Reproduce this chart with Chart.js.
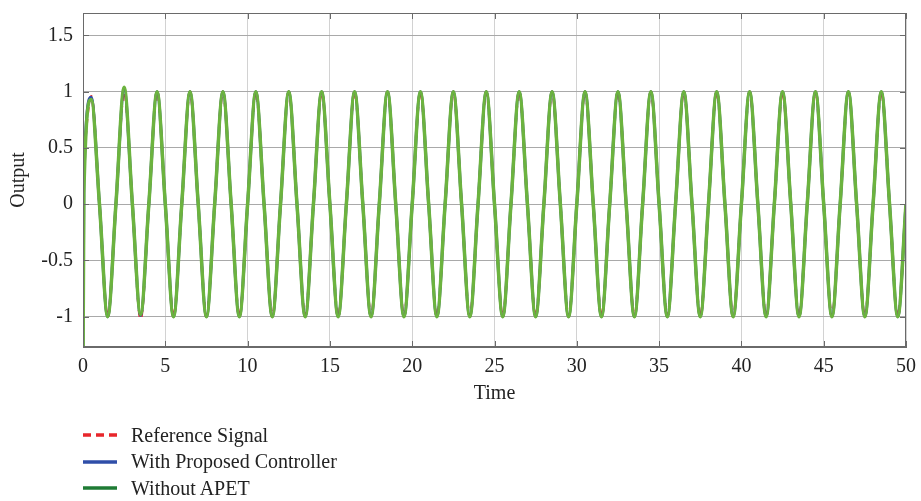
<!DOCTYPE html>
<html>
<head>
<meta charset="utf-8">
<script src="https://cdn.jsdelivr.net/npm/chart.js@4.4.0/dist/chart.umd.min.js"></script>
<style>
  body { margin: 0; background: #fff; }
  #wrap { position: relative; width: 921px; height: 501px; }
  #legend { position: absolute; left: 83px; top: 422px; font-family: "Liberation Serif", serif; font-size: 20px; color: #222; }
  .row { display: flex; align-items: center; height: 26.5px; white-space: nowrap; }
  .row svg { margin-right: 14px; }
</style>
</head>
<body>
<div id="wrap">
  <canvas id="outputChart" width="921" height="501"></canvas>
  <div id="legend"></div>
</div>
<script>
// time samples (shared by all three series)
const time = [0, 0.05, 0.5, 1, 1.5, 2, 2.5, 3, 3.5, 4,
  4.5, 5, 5.5, 6, 6.5, 7, 7.5, 8, 8.5, 9, 9.5, 10, 10.5, 11, 11.5, 12,
  12.5, 13, 13.5, 14, 14.5, 15, 15.5, 16, 16.5, 17, 17.5, 18, 18.5, 19, 19.5, 20,
  20.5, 21, 21.5, 22, 22.5, 23, 23.5, 24, 24.5, 25, 25.5, 26, 26.5, 27, 27.5, 28,
  28.5, 29, 29.5, 30, 30.5, 31, 31.5, 32, 32.5, 33, 33.5, 34, 34.5, 35, 35.5, 36,
  36.5, 37, 37.5, 38, 38.5, 39, 39.5, 40, 40.5, 41, 41.5, 42, 42.5, 43, 43.5, 44,
  44.5, 45, 45.5, 46, 46.5, 47, 47.5, 48, 48.5, 49, 49.5, 50];

const referenceSignal = [0.27, 0.4, 0.96, 0, -1, 0, 1, 0, -1.02, 0,
  1, 0, -1, 0, 1, 0, -1, 0, 1, 0, -1, 0, 1, 0, -1, 0,
  1, 0, -1, 0, 1, 0, -1, 0, 1, 0, -1, 0, 1, 0, -1, 0,
  1, 0, -1, 0, 1, 0, -1, 0, 1, 0, -1, 0, 1, 0, -1, 0,
  1, 0, -1, 0, 1, 0, -1, 0, 1, 0, -1, 0, 1, 0, -1, 0,
  1, 0, -1, 0, 1, 0, -1, 0, 1, 0, -1, 0, 1, 0, -1, 0,
  1, 0, -1, 0, 1, 0, -1, 0, 1, 0, -1, 0];

const withProposed = [-1.4, 0.2, 0.95, 0, -1, 0, 1.02, 0, -0.99, 0,
  1, 0, -1, 0, 1, 0, -1, 0, 1, 0, -1, 0, 1, 0, -1, 0,
  1, 0, -1, 0, 1, 0, -1, 0, 1, 0, -1, 0, 1, 0, -1, 0,
  1, 0, -1, 0, 1, 0, -1, 0, 1, 0, -1, 0, 1, 0, -1, 0,
  1, 0, -1, 0, 1, 0, -1, 0, 1, 0, -1, 0, 1, 0, -1, 0,
  1, 0, -1, 0, 1, 0, -1, 0, 1, 0, -1, 0, 1, 0, -1, 0,
  1, 0, -1, 0, 1, 0, -1, 0, 1, 0, -1, 0];

const withoutApet = [-1.6, 0.1, 0.93, 0, -1, 0, 1.04, 0, -0.98, 0,
  1, 0, -1, 0, 1, 0, -1, 0, 1, 0, -1, 0, 1, 0, -1, 0,
  1, 0, -1, 0, 1, 0, -1, 0, 1, 0, -1, 0, 1, 0, -1, 0,
  1, 0, -1, 0, 1, 0, -1, 0, 1, 0, -1, 0, 1, 0, -1, 0,
  1, 0, -1, 0, 1, 0, -1, 0, 1, 0, -1, 0, 1, 0, -1, 0,
  1, 0, -1, 0, 1, 0, -1, 0, 1, 0, -1, 0, 1, 0, -1, 0,
  1, 0, -1, 0, 1, 0, -1, 0, 1, 0, -1, 0];

const seriesNames = ["Reference Signal", "With Proposed Controller", "Without APET"];
const legendColors = ["#e8262b", "#2f4ea8", "#1e7b34"];
const xTicks = [0, 5, 10, 15, 20, 25, 30, 35, 40, 45, 50];
const yTicks = [-1, -0.5, 0, 0.5, 1, 1.5];

const fontFamily = '"Liberation Serif", "Times New Roman", serif';

function toPoints(ys) {
  return time.map((t, i) => ({ x: t, y: ys[i] }));
}

// MATLAB-like box with inward tick marks
const boxPlugin = {
  id: "box",
  afterDraw(chart) {
    const { ctx, chartArea: a, scales } = chart;
    ctx.save();
    ctx.strokeStyle = "#6a6a6a";
    ctx.lineWidth = 1;
    ctx.strokeRect(a.left + 0.5, a.top + 0.5, a.right - a.left - 1, a.bottom - a.top - 1);
    ctx.beginPath();
    xTicks.forEach(v => {
      const px = Math.round(scales.x.getPixelForValue(v)) + 0.5;
      ctx.moveTo(px, a.bottom); ctx.lineTo(px, a.bottom - 6);
      ctx.moveTo(px, a.top); ctx.lineTo(px, a.top + 6);
    });
    yTicks.forEach(v => {
      const py = Math.round(scales.y.getPixelForValue(v)) + 0.5;
      ctx.moveTo(a.left, py); ctx.lineTo(a.left + 6, py);
      ctx.moveTo(a.right, py); ctx.lineTo(a.right - 6, py);
    });
    ctx.stroke();
    ctx.restore();
  }
};

const chart = new Chart(document.getElementById("outputChart").getContext("2d"), {
  type: "line",
  data: {
    datasets: [
      {
        label: seriesNames[0],
        data: toPoints(referenceSignal),
        borderColor: "#e8262b",
        borderWidth: 2.5,
        borderDash: [7, 5],
        order: 3
      },
      {
        label: seriesNames[1],
        data: toPoints(withProposed),
        borderColor: "#2f4ea8",
        borderWidth: 3,
        order: 2
      },
      {
        label: seriesNames[2],
        data: toPoints(withoutApet),
        borderColor: "#6cb33f",
        borderWidth: 3.5,
        order: 1
      }
    ]
  },
  options: {
    responsive: false,
    animation: false,
    layout: { padding: { left: 0, top: 13, right: 15, bottom: 94 } },
    elements: {
      point: { radius: 0 },
      line: { cubicInterpolationMode: "monotone", fill: false }
    },
    plugins: {
      legend: { display: false },
      tooltip: { enabled: false }
    },
    scales: {
      x: {
        type: "linear",
        min: 0,
        max: 50,
        afterBuildTicks: s => { s.ticks = xTicks.map(v => ({ value: v })); },
        afterFit: s => { s.height = 60; s.paddingLeft = 0; s.paddingRight = 0; },
        grid: { color: "#d2d2d2", drawTicks: false },
        border: { display: true, color: "#6a6a6a" },
        ticks: {
          padding: 8,
          color: "#222",
          font: { family: fontFamily, size: 20 },
          maxRotation: 0,
          callback: v => String(v)
        },
        title: {
          display: true,
          text: "Time",
          color: "#222",
          padding: { top: 4, bottom: 1 },
          font: { family: fontFamily, size: 20 }
        }
      },
      y: {
        min: -1.27,
        max: 1.7,
        afterBuildTicks: s => { s.ticks = yTicks.map(v => ({ value: v })); },
        afterFit: s => { s.width = 83; s.paddingTop = 0; s.paddingBottom = 0; },
        grid: { color: "#a9a9a9", drawTicks: false },
        border: { display: true, color: "#6a6a6a" },
        ticks: {
          padding: 10,
          color: "#222",
          font: { family: fontFamily, size: 20 },
          callback: v => String(v)
        },
        title: {
          display: true,
          text: "Output",
          color: "#222",
          padding: { top: 7, bottom: 4 },
          font: { family: fontFamily, size: 20 }
        }
      }
    }
  },
  plugins: [boxPlugin]
});

// legend below the plot, one entry per row
const legendEl = document.getElementById("legend");
chart.data.datasets.forEach((ds, i) => {
  const row = document.createElement("div");
  row.className = "row";
  const dash = ds.borderDash ? 'stroke-dasharray="8,5"' : "";
  row.innerHTML = '<svg width="34" height="6"><line x1="0" y1="3" x2="34" y2="3" stroke="' +
    legendColors[i] + '" stroke-width="3.5" ' + dash + '/></svg><span>' + ds.label + '</span>';
  legendEl.appendChild(row);
});
</script>
</body>
</html>
